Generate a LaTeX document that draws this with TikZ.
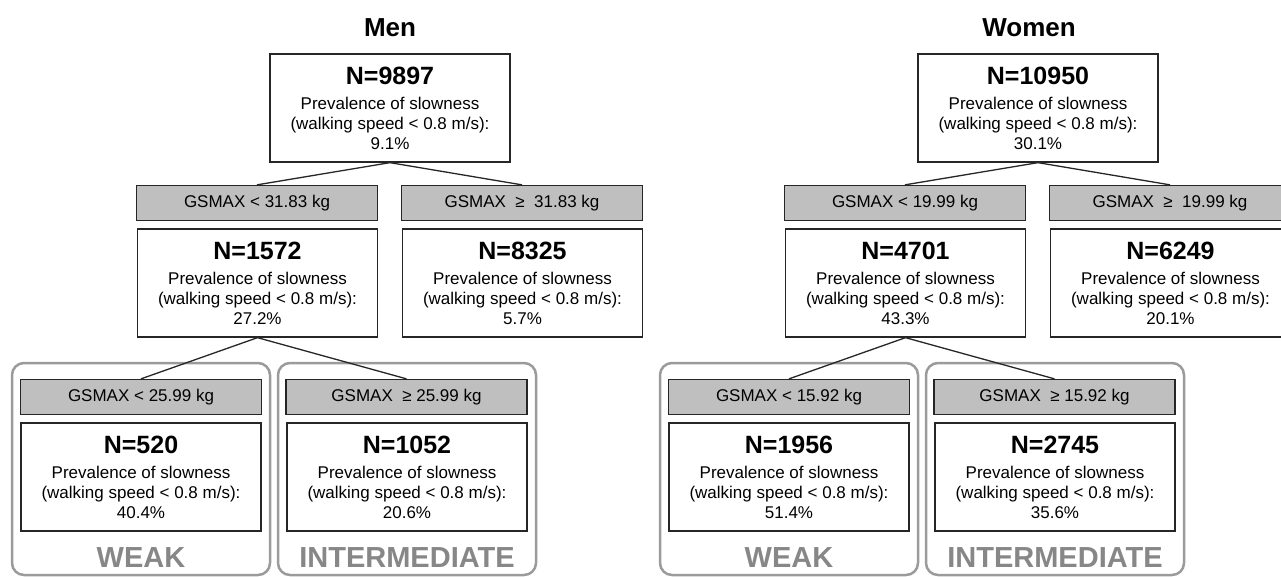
\documentclass[tikz,border=0pt]{standalone}
\usepackage{fontspec}
\setmainfont{Liberation Sans}
\definecolor{condgray}{RGB}{191,191,191}
\definecolor{tiergray}{RGB}{155,155,155}
\definecolor{labelgray}{RGB}{135,135,135}
\newcommand{\ncount}[1]{{\fontsize{25}{25}\selectfont\bfseries N=#1}}
\begin{document}
\begin{tikzpicture}[x=1pt,y=-1pt]

    \tikzset{
      statbox/.style={
        draw=black!85,
        line width=1.3pt,
        fill=white,
        align=center,
        inner sep=0pt,
        minimum width=240pt,
        minimum height=108pt,
        font=\fontsize{17}{20}\selectfont,
      },
      condbox/.style={
        draw=black!85,
        line width=1.3pt,
        fill=condgray,
        inner sep=0pt,
        minimum width=241pt,
        minimum height=35pt,
        font=\fontsize{17}{20}\selectfont,
      },
      tierbox/.style={
        draw=tiergray,
        line width=2.5pt,
        rounded corners=12pt,
        inner sep=0pt,
        minimum width=258pt,
        minimum height=212pt,
      },
      tierlabel/.style={text=labelgray, anchor=base, font=\fontsize{29}{30}\selectfont\bfseries},
      sextitle/.style={anchor=base, font=\fontsize{26}{28}\selectfont\bfseries},
      split/.style={draw=black!85, line width=1.3pt},
    }
    \useasboundingbox (0,0) rectangle (1281,576);
    \clip (0,0) rectangle (1281,576);

	\node[tierbox] (mweak) at (141,469) {};
	\node[tierbox] (minter) at (407,469) {};
	\node[tierbox] (wweak) at (789,469) {};
	\node[tierbox] (winter) at (1055,469) {};

	\node[sextitle] (mtitle) at (390,36) {Men};
	\node[statbox] (mroot) at (390,108) {\ncount{9897}\\[5pt]Prevalence of slowness\\(walking speed < 0.8 m/s):\\9.1\%};
	\node[condbox] (mlowcond) at (257,203) {GSMAX < 31.83 kg};
	\node[condbox] (mhighcond) at (522,203) {GSMAX\ \ ≥\ \ 31.83 kg};
	\node[statbox] (mlow) at (257.5,283) {\ncount{1572}\\[5pt]Prevalence of slowness\\(walking speed < 0.8 m/s):\\27.2\%};
	\node[statbox] (mhigh) at (522.5,283) {\ncount{8325}\\[5pt]Prevalence of slowness\\(walking speed < 0.8 m/s):\\5.7\%};
	\node[condbox] (mweakcond) at (141,397) {GSMAX < 25.99 kg};
	\node[condbox] (mintercond) at (406.5,397) {GSMAX\ \ ≥ 25.99 kg};
	\node[statbox] (mweakbox) at (141,477) {\ncount{520}\\[5pt]Prevalence of slowness\\(walking speed < 0.8 m/s):\\40.4\%};
	\node[statbox] (minterbox) at (407,477) {\ncount{1052}\\[5pt]Prevalence of slowness\\(walking speed < 0.8 m/s):\\20.6\%};
	\node[tierlabel] (mweaklabel) at (141,567) {WEAK};
	\node[tierlabel] (minterlabel) at (407,567) {INTERMEDIATE};

	\node[sextitle] (wtitle) at (1029,36) {Women};
	\node[statbox] (wroot) at (1038,108) {\ncount{10950}\\[5pt]Prevalence of slowness\\(walking speed < 0.8 m/s):\\30.1\%};
	\node[condbox] (wlowcond) at (905,203) {GSMAX < 19.99 kg};
	\node[condbox] (whighcond) at (1170,203) {GSMAX\ \ ≥\ \ 19.99 kg};
	\node[statbox] (wlow) at (905.5,283) {\ncount{4701}\\[5pt]Prevalence of slowness\\(walking speed < 0.8 m/s):\\43.3\%};
	\node[statbox] (whigh) at (1170.5,283) {\ncount{6249}\\[5pt]Prevalence of slowness\\(walking speed < 0.8 m/s):\\20.1\%};
	\node[condbox] (wweakcond) at (789,397) {GSMAX < 15.92 kg};
	\node[condbox] (wintercond) at (1054.5,397) {GSMAX\ \ ≥ 15.92 kg};
	\node[statbox] (wweakbox) at (789,477) {\ncount{1956}\\[5pt]Prevalence of slowness\\(walking speed < 0.8 m/s):\\51.4\%};
	\node[statbox] (winterbox) at (1055,477) {\ncount{2745}\\[5pt]Prevalence of slowness\\(walking speed < 0.8 m/s):\\35.6\%};
	\node[tierlabel] (wweaklabel) at (789,567) {WEAK};
	\node[tierlabel] (winterlabel) at (1055,567) {INTERMEDIATE};

	\draw[split] (mroot.south) -- (mlowcond.north);
	\draw[split] (mroot.south) -- (mhighcond.north);
	\draw[split] (mlow.south) -- (mweakcond.north);
	\draw[split] (mlow.south) -- (mintercond.north);
	\draw[split] (wroot.south) -- (wlowcond.north);
	\draw[split] (wroot.south) -- (whighcond.north);
	\draw[split] (wlow.south) -- (wweakcond.north);
	\draw[split] (wlow.south) -- (wintercond.north);

\end{tikzpicture}
\end{document}
